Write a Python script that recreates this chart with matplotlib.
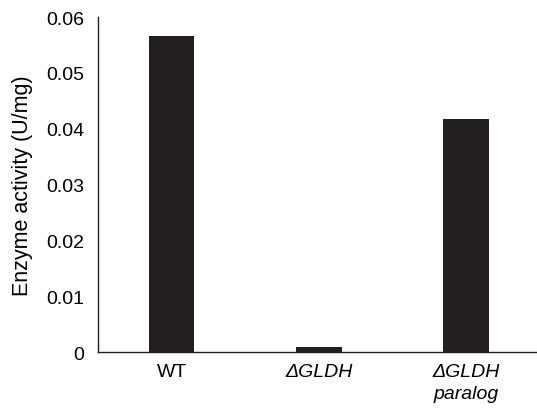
import matplotlib
matplotlib.use("Agg")
import matplotlib.pyplot as plt

plt.rcParams['font.family'] = ['Liberation Sans', 'DejaVu Sans']

strains = ["WT", "ΔGLDH", "ΔGLDH\nparalog"]
activity = [0.0566, 0.0009, 0.0417]
yticks = [0, 0.01, 0.02, 0.03, 0.04, 0.05, 0.06]
ytick_labels = ["0", "0.01", "0.02", "0.03", "0.04", "0.05", "0.06"]

fig = plt.figure(figsize=(5.37, 4.1), dpi=100)
ax = fig.add_axes([0.1825, 0.139, 0.8175, 0.817])

x = range(len(strains))
ax.bar(x, activity, width=0.31, color="#231f20")

ax.set_xlim(-0.5, 2.48)
ax.set_ylim(0, 0.06)
ax.set_yticks(yticks)
ax.set_yticklabels(ytick_labels, fontsize=14)
ax.set_xticks(list(x))
ax.set_xticklabels(strains, fontsize=14, linespacing=1.35)
for lbl in ax.get_xticklabels()[1:]:
    lbl.set_fontstyle("italic")
ax.tick_params(axis="y", length=0, pad=10)
ax.tick_params(axis="x", length=0, pad=8)
ax.set_ylabel("Enzyme activity (U/mg)", fontsize=15.5, labelpad=9)

ax.spines["top"].set_visible(False)
ax.spines["right"].set_visible(False)
for s in ("left", "bottom"):
    ax.spines[s].set_color("#231f20")
    ax.spines[s].set_linewidth(1.0)

fig.savefig("out.png", dpi=100)
